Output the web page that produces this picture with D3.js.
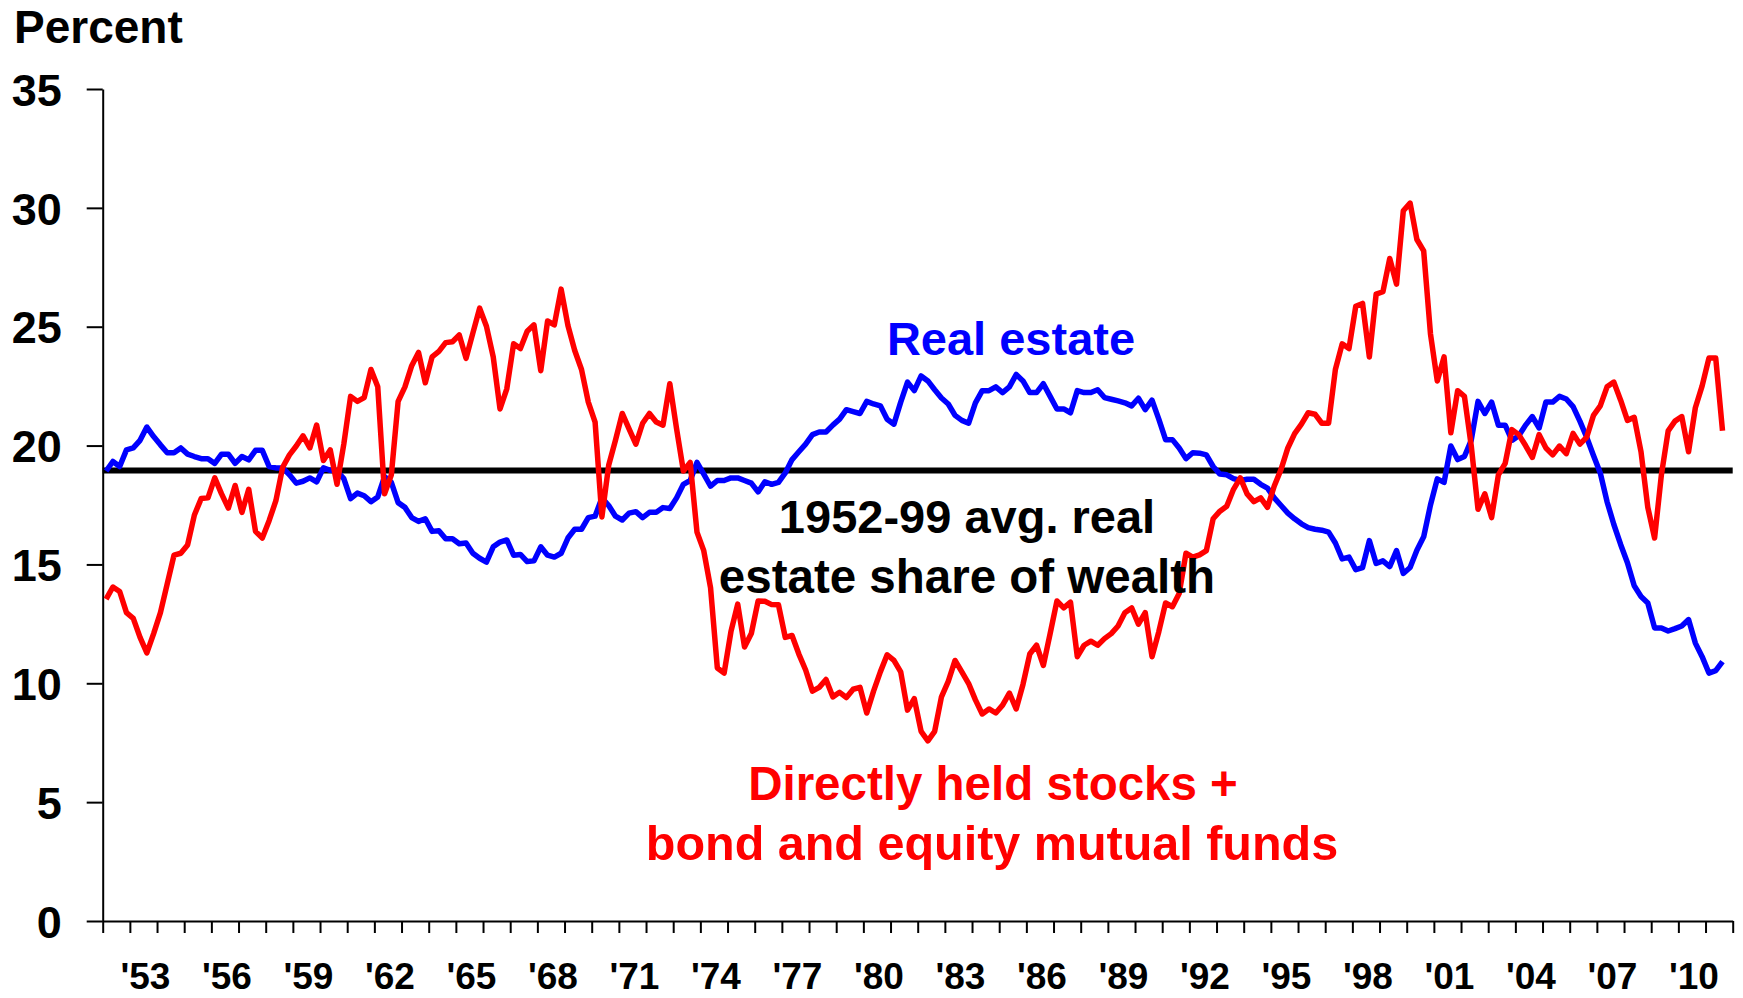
<!DOCTYPE html>
<html>
<head>
<meta charset="utf-8">
<script src="https://cdn.jsdelivr.net/npm/d3@7"></script>
<style>
  body { margin: 0; background: #fff; }
  text { font-family: "Liberation Sans", Arial, sans-serif; font-weight: bold; }
</style>
</head>
<body>
<div id="graph"></div>
<script>
// quarterly shares of household wealth, 1952Q1 .. 2011Q3 (percent)
const START_YEAR = 1952;
const END_YEAR = 2012;

const realEstate = [
  18.93, 19.33, 19.12, 19.82, 19.90, 20.22, 20.78, 20.38, 20.03, 19.70, 19.70, 19.90,
  19.64, 19.54, 19.45, 19.45, 19.25, 19.64, 19.64, 19.25, 19.54, 19.40, 19.80, 19.80,
  19.12, 19.06, 19.06, 18.77, 18.42, 18.50, 18.64, 18.47, 19.06, 18.96, 18.93, 18.61,
  17.77, 18.00, 17.89, 17.64, 17.84, 18.69, 18.45, 17.60, 17.40, 16.97, 16.81, 16.92,
  16.39, 16.42, 16.08, 16.08, 15.87, 15.90, 15.47, 15.26, 15.10, 15.74, 15.94, 16.03,
  15.39, 15.42, 15.12, 15.15, 15.74, 15.39, 15.31, 15.47, 16.11, 16.48, 16.48, 16.97,
  17.03, 17.80, 17.48, 17.03, 16.87, 17.16, 17.22, 16.97, 17.19, 17.19, 17.39, 17.35,
  17.80, 18.37, 18.53, 19.29, 18.80, 18.29, 18.53, 18.53, 18.64, 18.64, 18.53, 18.42,
  18.05, 18.48, 18.37, 18.45, 18.85, 19.41, 19.74, 20.06, 20.46, 20.57, 20.57, 20.86,
  21.11, 21.51, 21.43, 21.35, 21.86, 21.75, 21.67, 21.11, 20.90, 21.83, 22.67, 22.31,
  22.93, 22.72, 22.35, 22.00, 21.75, 21.27, 21.06, 20.94, 21.80, 22.31, 22.31, 22.47,
  22.23, 22.47, 22.99, 22.72, 22.23, 22.23, 22.60, 22.07, 21.54, 21.54, 21.38, 22.31,
  22.23, 22.23, 22.35, 22.02, 21.95, 21.88, 21.80, 21.67, 21.99, 21.51, 21.91, 21.11,
  20.25, 20.25, 19.90, 19.45, 19.70, 19.68, 19.61, 19.12, 18.80, 18.77, 18.61, 18.53,
  18.58, 18.58, 18.37, 18.21, 17.80, 17.48, 17.16, 16.92, 16.71, 16.55, 16.48, 16.44,
  16.36, 15.90, 15.23, 15.31, 14.78, 14.87, 16.00, 15.04, 15.15, 14.91, 15.58, 14.62,
  14.87, 15.60, 16.16, 17.50, 18.60, 18.45, 19.98, 19.41, 19.54, 20.22, 21.86, 21.35,
  21.83, 20.86, 20.86, 20.22, 20.41, 20.86, 21.22, 20.74, 21.83, 21.83, 22.07, 21.96,
  21.64, 21.03, 20.35, 19.58, 18.85, 17.64, 16.68, 15.84, 15.07, 14.10, 13.65, 13.38,
  12.33, 12.33, 12.20, 12.30, 12.41, 12.68, 11.69, 11.12, 10.43, 10.53, 10.91
];

const stocksFunds = [
  13.54, 14.05, 13.86, 12.97, 12.73, 11.93, 11.28, 12.09, 12.97, 14.18, 15.39, 15.47,
  15.82, 17.08, 17.77, 17.80, 18.64, 17.97, 17.37, 18.32, 17.19, 18.16, 16.39, 16.11,
  16.84, 17.68, 19.09, 19.61, 19.98, 20.41, 19.90, 20.86, 19.37, 19.82, 18.37, 20.06,
  22.07, 21.86, 22.02, 23.20, 22.47, 17.97, 18.77, 21.86, 22.47, 23.36, 23.92, 22.64,
  23.73, 23.96, 24.33, 24.37, 24.65, 23.67, 24.73, 25.78, 25.02, 23.73, 21.54, 22.39,
  24.28, 24.08, 24.81, 25.08, 23.15, 25.24, 25.08, 26.58, 25.05, 24.00, 23.20, 21.83,
  20.99, 17.00, 19.17, 20.22, 21.35, 20.70, 20.06, 20.94, 21.35, 20.99, 20.86, 22.60,
  20.70, 18.93, 19.29, 16.36, 15.58, 14.02, 10.64, 10.43, 12.17, 13.33, 11.53, 12.09,
  13.46, 13.45, 13.31, 13.30, 11.93, 12.01, 11.23, 10.56, 9.67, 9.83, 10.16, 9.43,
  9.62, 9.40, 9.75, 9.83, 8.75, 9.67, 10.48, 11.20, 10.96, 10.48, 8.87, 9.35,
  7.98, 7.58, 7.98, 9.43, 10.08, 10.96, 10.48, 9.99, 9.30, 8.71, 8.92, 8.75,
  9.08, 9.59, 8.92, 9.95, 11.23, 11.60, 10.75, 12.09, 13.46, 13.17, 13.41, 11.12,
  11.60, 11.77, 11.60, 11.88, 12.09, 12.41, 12.97, 13.17, 12.49, 12.97, 11.12, 12.17,
  13.38, 13.22, 13.78, 15.47, 15.31, 15.40, 15.58, 16.92, 17.24, 17.45, 18.16, 18.64,
  17.97, 17.64, 17.80, 17.40, 18.30, 19.00, 19.90, 20.50, 20.90, 21.38, 21.32, 20.94,
  20.94, 23.20, 24.28, 24.08, 25.86, 25.98, 23.73, 26.37, 26.47, 27.87, 26.79, 29.88,
  30.20, 28.67, 28.19, 24.70, 22.72, 23.73, 20.54, 22.31, 22.07, 20.00, 17.32, 17.97,
  16.97, 18.77, 19.25, 20.67, 20.46, 20.00, 19.50, 20.46, 19.90, 19.61, 19.98, 19.66,
  20.51, 20.06, 20.35, 21.27, 21.67, 22.47, 22.67, 21.91, 21.06, 21.19, 19.74, 17.40,
  16.11, 18.77, 20.62, 21.03, 21.22, 19.74, 21.59, 22.51, 23.68, 23.68, 20.62
];

const AVG_SHARE = 18.95; // 1952-99 average real estate share

const yTicks = [0, 5, 10, 15, 20, 25, 30, 35];
const xLabelYears = [1953, 1956, 1959, 1962, 1965, 1968, 1971, 1974, 1977, 1980,
                     1983, 1986, 1989, 1992, 1995, 1998, 2001, 2004, 2007, 2010];
const xLabels = ["'53", "'56", "'59", "'62", "'65", "'68", "'71", "'74", "'77", "'80",
                 "'83", "'86", "'89", "'92", "'95", "'98", "'01", "'04", "'07", "'10"];

const width = 1743, height = 998;
const plot = {left: 102.7, right: 1732.7, top: 89, bottom: 921};

// each quarter sits in the middle of its slot
const quarterPos = realEstate.map(function(d, i) { return START_YEAR + (i + 0.5) / 4; });

let svg = d3.select("#graph")
    .append("svg")
    .attr("width", width)
    .attr("height", height)
    .style("display", "block");

svg.append("rect").attr("width", width).attr("height", height).attr("fill", "#fff");

let x = d3.scaleLinear()
    .domain([START_YEAR, END_YEAR])
    .range([plot.left, plot.right]);

let y = d3.scaleLinear()
    .domain([0, 35])
    .range([plot.bottom, plot.top]);

// y axis
let yAxis = svg.append("g")
    .attr("transform", `translate(${plot.left}, 0)`)
    .call(d3.axisLeft(y).tickValues(yTicks).tickSize(16).tickSizeOuter(0).tickPadding(25));
yAxis.selectAll("path, line").attr("stroke", "#000").attr("stroke-width", 2);
yAxis.selectAll("text")
    .attr("fill", "#000")
    .style("font-size", "45px")
    .attr("dy", "0.36em");

// x axis: tick between every year, labels every third year
let years = d3.range(START_YEAR, END_YEAR + 1);
let xAxis = svg.append("g")
    .attr("transform", `translate(0, ${plot.bottom})`)
    .call(d3.axisBottom(x).tickValues(years).tickSize(12).tickSizeOuter(0).tickFormat(""));
xAxis.selectAll("path, line").attr("stroke", "#000").attr("stroke-width", 2);

svg.append("g").selectAll("text")
    .data(xLabelYears)
    .enter()
    .append("text")
    .attr("x", function(d) { return x(d + 0.5) + 2; })
    .attr("y", 989)
    .style("text-anchor", "middle")
    .style("font-size", "37px")
    .text(function(d, i) { return xLabels[i]; });

// average line
svg.append("line")
    .attr("x1", x(START_YEAR))
    .attr("x2", x(END_YEAR))
    .attr("y1", y(AVG_SHARE))
    .attr("y2", y(AVG_SHARE))
    .attr("stroke", "#000")
    .attr("stroke-width", 6);

let line = d3.line()
    .x(function(d, i) { return x(quarterPos[i]); })
    .y(function(d) { return y(d); });

svg.append("path")
    .datum(realEstate)
    .attr("fill", "none")
    .attr("stroke", "#0000ff")
    .attr("stroke-width", 5.5)
    .attr("stroke-linejoin", "round")
    .attr("d", line);

svg.append("path")
    .datum(stocksFunds)
    .attr("fill", "none")
    .attr("stroke", "#ff0000")
    .attr("stroke-width", 5.5)
    .attr("stroke-linejoin", "round")
    .attr("d", line);

// labels
svg.append("text")
    .attr("x", 14)
    .attr("y", 43)
    .style("font-size", "46px")
    .text("Percent");

svg.append("text")
    .attr("x", 1011)
    .attr("y", 355)
    .attr("fill", "#0000ff")
    .style("text-anchor", "middle")
    .style("font-size", "47px")
    .text("Real estate");

svg.append("text")
    .attr("x", 967)
    .attr("y", 533)
    .style("text-anchor", "middle")
    .style("font-size", "47px")
    .text("1952-99 avg. real");

svg.append("text")
    .attr("x", 967)
    .attr("y", 593)
    .style("text-anchor", "middle")
    .style("font-size", "47.5px")
    .text("estate share of wealth");

svg.append("text")
    .attr("x", 993)
    .attr("y", 800)
    .attr("fill", "#ff0000")
    .style("text-anchor", "middle")
    .style("font-size", "47.5px")
    .text("Directly held stocks +");

svg.append("text")
    .attr("x", 992)
    .attr("y", 860)
    .attr("fill", "#ff0000")
    .style("text-anchor", "middle")
    .style("font-size", "48.5px")
    .text("bond and equity mutual funds");
</script>
</body>
</html>
